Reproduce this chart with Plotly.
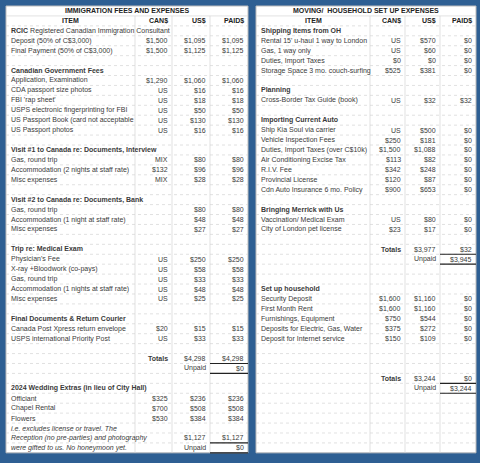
import plotly.graph_objects as go

# Left table: Immigration fees and expenses
L_item = ["<b>RCIC</b> Registered Canadian Immigration Consultant", "Deposit (50% of C$3,000)", "Final Payment (50% of C$3,000)", "",
          "<b>Canadian Government Fees</b>", "Application, Examination", "CDA passport size photos", "FBI 'rap sheet'",
          "USPS electronic fingerprinting for FBI", "US Passport Book (card not acceptable", "US Passport photos", "",
          "<b>Visit #1 to Canada re: Documents, Interview</b>", "Gas, round trip", "Accommodation (2 nights at staff rate)", "Misc expenses", "",
          "<b>Visit #2 to Canada re: Documents, Bank</b>", "Gas, round trip", "Accommodation (1 night at staff rate)", "Misc expenses", "",
          "<b>Trip re: Medical Exam</b>", "Physician's Fee", "X-ray +Bloodwork (co-pays)", "Gas, round trip",
          "Accommodation (1 nights at staff rate)", "Misc expenses", "",
          "<b>Final Documents & Return Courier</b>", "Canada Post Xpress return envelope", "USPS international Priority Post", "",
          "", "", "",
          "<b>2024 Wedding Extras (in lieu of City Hall)</b>", "Officiant", "Chapel Rental", "Flowers",
          "<i>i.e. excludes license or travel. The</i>", "<i>Reception (no pre-parties) and photography</i>", "<i>were gifted to us. No honeymoon yet.</i>"]
L_can = ["", "$1,500", "$1,500", "", "", "$1,290", "US", "US", "US", "US", "US", "",
         "", "MIX", "$132", "MIX", "", "", "", "", "", "",
         "", "US", "US", "US", "US", "US", "", "", "$20", "US", "",
         "<b>Totals</b>", "", "", "", "$325", "$700", "$530", "", "", ""]
L_us = ["", "$1,095", "$1,125", "", "", "$1,060", "$16", "$18", "$50", "$130", "$16", "",
        "", "$80", "$96", "$28", "", "", "$80", "$48", "$27", "",
        "", "$250", "$58", "$33", "$48", "$25", "", "", "$15", "$33", "",
        "$4,298", "Unpaid", "", "", "$236", "$508", "$384", "", "$1,127", "Unpaid"]
L_paid = ["", "$1,095", "$1,125", "", "", "$1,060", "$16", "$18", "$50", "$130", "$16", "",
          "", "$80", "$96", "$28", "", "", "$80", "$48", "$27", "",
          "", "$250", "$58", "$33", "$48", "$25", "", "", "$15", "$33", "",
          "$4,298", "$0", "", "", "$236", "$508", "$384", "", "$1,127", "$0"]

# Right table: Moving / household set up expenses
R_item = ["<b>Shipping Items from OH</b>", "Rental 15' u-haul 1 way to London", "Gas, 1 way only", "Duties, Import Taxes",
          "Storage Space 3 mo. couch-surfing", "", "<b>Planning</b>", "Cross-Border Tax Guide (book)", "",
          "<b>Importing Current Auto</b>", "Ship Kia Soul via carrier", "Vehicle Inspection Fees", "Duties, Import Taxes (over C$10k)",
          "Air Conditioning Excise Tax", "R.I.V. Fee", "Provincial License", "Cdn Auto Insurance 6 mo. Policy", "",
          "<b>Bringing Merrick with Us</b>", "Vaccination/ Medical Exam", "City of London pet license", "",
          "", "", "", "", "<b>Set up household</b>", "Security Deposit", "First Month Rent", "Furnishings, Equipment",
          "Deposits for Electric, Gas, Water", "Deposit for Internet service", "", "", "",
          "", "", "", "", "", "", "", ""]
R_can = ["", "US", "US", "$0", "$525", "", "", "US", "", "", "US", "$250", "$1,500", "$113", "$342", "$120", "$900", "",
         "", "US", "$23", "", "<b>Totals</b>", "", "", "", "", "$1,600", "$1,600", "$750", "$375", "$150", "", "", "",
         "<b>Totals</b>", "", "", "", "", "", "", ""]
R_us = ["", "$570", "$60", "$0", "$381", "", "", "$32", "", "", "$500", "$181", "$1,088", "$82", "$248", "$87", "$653", "",
        "", "$80", "$17", "", "$3,977", "Unpaid", "", "", "", "$1,160", "$1,160", "$544", "$272", "$109", "", "", "",
        "$3,244", "Unpaid", "", "", "", "", "", ""]
R_paid = ["", "$0", "$0", "$0", "$0", "", "", "$32", "", "", "$0", "$0", "$0", "$0", "$0", "$0", "$0", "",
          "", "$0", "$0", "", "$32", "$3,945", "", "", "", "$0", "$0", "$0", "$0", "$0", "", "", "",
          "$0", "$3,244", "", "", "", "", "", ""]

headers = ["<b>ITEM</b>", "<b>CAN$</b>", "<b>US$</b>", "<b>PAID$</b>"]
W, H = 480, 463
FONT = "Liberation Sans"
GRID = "#d4d4d4"
TXT = "#3a3a3a"
TOP, RH = 6, 9.93

fig = go.Figure()
fig.add_trace(go.Scatter(x=[0, W], y=[0, H], mode="markers", marker=dict(opacity=0), hoverinfo="skip", showlegend=False))

def ann(x, y, text, anchor, color=TXT, size=7):
    fig.add_annotation(x=x, y=y, text=text, xanchor=anchor, yanchor="middle", showarrow=False,
                       font=dict(family=FONT, size=size, color=color))

def line(x0, y0, x1, y1, color=GRID, width=0.7, dash=None):
    fig.add_shape(type="line", x0=x0, y0=y0, x1=x1, y1=y1, line=dict(color=color, width=width, dash=dash), layer="above")

def draw(title, cols, bounds):
    n = len(cols[0])
    x0, x1 = bounds[0], bounds[-1]
    bottom = TOP + RH * (n + 2)
    fig.add_shape(type="rect", x0=x0, x1=x1, y0=TOP, y1=bottom, fillcolor="white", line=dict(color="#bbbbbb", width=1), layer="below")
    ann((x0 + x1) / 2, TOP + RH / 2, "<b>" + title + "</b>", "center", "#222")
    for i in range(1, n + 2):
        line(x0, TOP + RH * i, x1, TOP + RH * i, dash="dot" if i > 1 else None)
    for bx in bounds[1:-1]:
        line(bx, TOP + RH, bx, bottom)
    yh = TOP + RH * 1.5
    ann((bounds[0] + bounds[1]) / 2, yh, headers[0], "center", "#222")
    for c in range(1, 4):
        ann(bounds[c + 1] - 2, yh, headers[c], "right", "#222")
    for r in range(n):
        y = TOP + RH * (r + 2.5)
        if cols[0][r]:
            ann(x0 + 3, y, cols[0][r], "left")
        for c in range(1, 4):
            v = cols[c][r]
            if v:
                ann(bounds[c + 1] - 2, y, v, "right")
        if cols[2][r] == "Unpaid":
            yt, yb = TOP + RH * (r + 2), TOP + RH * (r + 3)
            line(bounds[3], yt, bounds[4], yt, color="#222", width=1.2)
            line(bounds[3], yb, bounds[4], yb, color="#222", width=1.2)

draw("IMMIGRATION FEES AND EXPENSES", [L_item, L_can, L_us, L_paid], [6, 135, 172, 210, 248])
draw("MOVING/  HOUSEHOLD SET UP EXPENSES", [R_item, R_can, R_us, R_paid], [256, 370, 405, 440, 476])

fig.update_xaxes(range=[0, W], visible=False, fixedrange=True)
fig.update_yaxes(range=[H, 0], visible=False, fixedrange=True)
fig.update_layout(width=W, height=H, margin=dict(l=0, r=0, t=0, b=0), paper_bgcolor="#2e5f93",
                  plot_bgcolor="#2e5f93")
fig.write_html("out.html", config={"displayModeBar": False},
               post_script="document.body.style.margin='0';document.body.style.overflow='hidden';")
